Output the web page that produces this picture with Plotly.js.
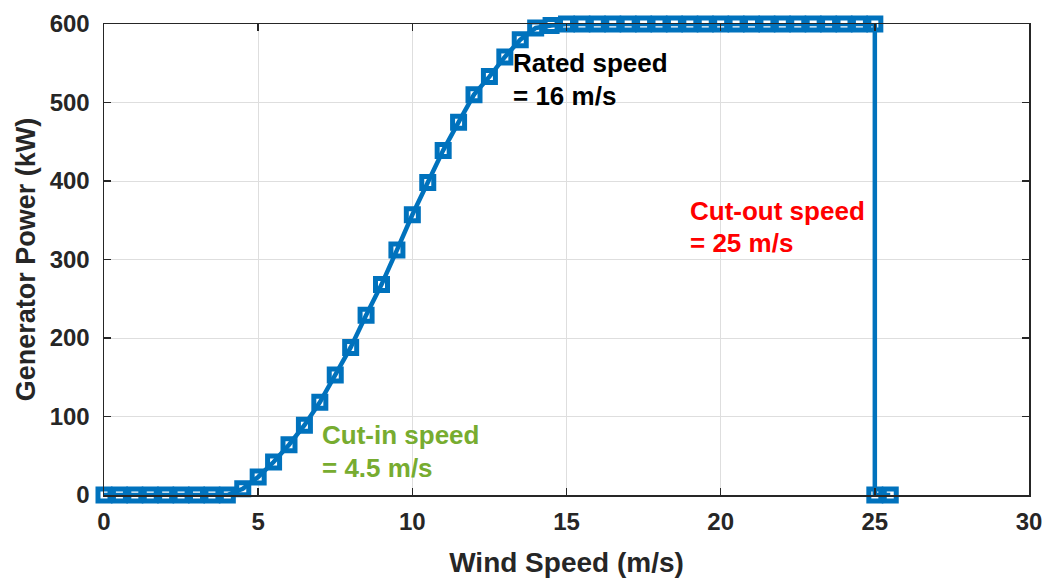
<!DOCTYPE html>
<html>
<head>
<meta charset="utf-8">
<script src="https://cdn.plot.ly/plotly-3.0.1.min.js"></script>
<style>html,body{margin:0;padding:0;background:#fff;}#chart{width:1049px;height:579px;}</style>
</head>
<body>
<div id="chart"></div>
<script>
const windSpeed = [0,0.5,1,1.5,2,2.5,3,3.5,4,4.5,5,5.5,6,6.5,7,7.5,8,8.5,9,9.5,10,10.5,11,11.5,12,12.5,13,13.5,14,14.5,15,15.5,16,16.5,17,17.5,18,18.5,19,19.5,20,20.5,21,21.5,22,22.5,23,23.5,24,24.5,25,25,25.5];
const power = [0,0,0,0,0,0,0,0,0,8,23,42,64,89,118,153,188,229,268,312,357,398,439,475,510,533,558,580,595,598,600,600,600,600,600,600,600,600,600,600,600,600,600,600,600,600,600,600,600,600,600,0,0];
const xTicks = [0,5,10,15,20,25,30];
const yTicks = [0,100,200,300,400,500,600];
const notes = [
  {x: 13.2, y: 550, text: 'Rated speed', color: '#000000'},
  {x: 13.2, y: 508, text: '= 16 m/s', color: '#000000'},
  {x: 18.93, y: 362, text: 'Cut-out speed', color: '#FF0000'},
  {x: 18.93, y: 321, text: '= 25 m/s', color: '#FF0000'},
  {x: 7.02, y: 76, text: 'Cut-in speed', color: '#77AC30'},
  {x: 7.02, y: 35, text: '= 4.5 m/s', color: '#77AC30'}
];
const fontFam = '"Liberation Sans", Arial, sans-serif';
const trace = {
  x: windSpeed, y: power, type: 'scatter', mode: 'lines+markers',
  line: {color: '#0072BD', width: 4.5},
  marker: {symbol: 'square-open', size: 12, color: '#0072BD', line: {color: '#0072BD', width: 5}},
  cliponaxis: false, showlegend: false, hoverinfo: 'x+y'
};
const axisCommon = {
  showline: true, linecolor: '#262626', linewidth: 1.5, mirror: 'ticks',
  ticks: 'inside', ticklen: 7, tickwidth: 1.5, tickcolor: '#262626',
  showgrid: true, gridcolor: '#dedede', gridwidth: 1, zeroline: false,
  tickfont: {family: fontFam, size: 24, color: '#262626', weight: 'bold'}
};
const layout = {
  width: 1049, height: 579,
  margin: {l: 104, r: 20, t: 24, b: 84},
  paper_bgcolor: '#ffffff', plot_bgcolor: '#ffffff',
  font: {family: fontFam},
  xaxis: Object.assign({}, axisCommon, {
    range: [0, 30], tickvals: xTicks, ticktext: xTicks.map(String), ticklabelstandoff: 5,
    title: {text: 'Wind Speed (m/s)', font: {family: fontFam, size: 28, color: '#262626', weight: 'bold'}, standoff: 18}
  }),
  yaxis: Object.assign({}, axisCommon, {
    range: [0, 600], tickvals: yTicks, ticktext: yTicks.map(String), ticklabelstandoff: 8,
    title: {text: 'Generator Power (kW)', font: {family: fontFam, size: 27, color: '#262626', weight: 'bold'}, standoff: 6}
  }),
  annotations: notes.map(n => ({
    x: n.x, y: n.y, xref: 'x', yref: 'y', text: n.text, showarrow: false,
    xanchor: 'left', yanchor: 'middle', align: 'left',
    font: {family: fontFam, size: 26, color: n.color, weight: 'bold'}
  }))
};
Plotly.newPlot('chart', [trace], layout, {displayModeBar: false, staticPlot: true});
</script>
</body>
</html>
